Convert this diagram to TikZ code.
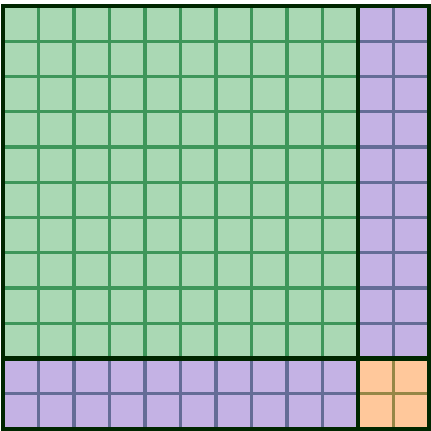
\documentclass[tikz,border=0pt]{standalone}
\begin{document}
\begin{tikzpicture}[x=1pt,y=-1pt,
  gridline/.style={line width=3.2pt},
  frameline/.style={line width=4.5pt,draw=black!85!green}]
\definecolor{gfill}{RGB}{170,216,180}
\definecolor{gline}{RGB}{62,150,90}
\definecolor{pfill}{RGB}{196,178,228}
\definecolor{pline}{RGB}{100,108,150}
\definecolor{ofill}{RGB}{255,200,155}
\definecolor{oline}{RGB}{150,135,70}
\useasboundingbox (0,0) rectangle (431,431);
\fill[white] (0,0) rectangle (431,431);
\def\xa{3}\def\xb{358}\def\xc{429}
\def\ya{6}\def\yb{358.5}\def\yc{429}
\coordinate (A) at (\xa,\ya);
\coordinate (B) at (\xb,\yb);
\coordinate (C) at (\xc,\yc);
% fills
\fill[gfill] (\xa,\ya) rectangle (\xb,\yb);
\fill[pfill] (\xb,\ya) rectangle (\xc,\yb);
\fill[pfill] (\xa,\yb) rectangle (\xb,\yc);
\fill[ofill] (\xb,\yb) rectangle (\xc,\yc);
% green grid
\foreach \k in {1,...,9} {
  \draw[gridline,gline] ({\xa+35.5*\k},\ya) -- ({\xa+35.5*\k},\yb);
  \draw[gridline,gline] (\xa,{\ya+35.25*\k}) -- (\xb,{\ya+35.25*\k});
  \draw[gridline,pline] (\xb,{\ya+35.25*\k}) -- (\xc,{\ya+35.25*\k});
  \draw[gridline,pline] ({\xa+35.5*\k},\yb) -- ({\xa+35.5*\k},\yc);
}
\draw[gridline,pline] ({\xa+35.5*11},\ya) -- ({\xa+35.5*11},\yb);
\draw[gridline,pline] (\xa,{\ya+35.25*11}) -- (\xb,{\ya+35.25*11});
\draw[gridline,oline] ({\xa+35.5*11},\yb) -- ({\xa+35.5*11},\yc);
\draw[gridline,oline] (\xb,{\ya+35.25*11}) -- (\xc,{\ya+35.25*11});
% frames
\draw[frameline] (\xb,\ya) -- (\xb,\yc);
\draw[frameline] (\xa,\yb) -- (\xc,\yb);
\draw[frameline] (A) rectangle (C);
\end{tikzpicture}
\end{document}
